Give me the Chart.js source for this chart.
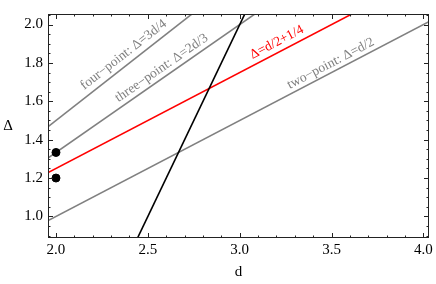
<!DOCTYPE html>
<html>
<head>
<meta charset="utf-8">
<script src="https://cdn.jsdelivr.net/npm/chart.js@4/dist/chart.umd.min.js"></script>
<style>
html,body{margin:0;padding:0;background:#fff;}
#wrap{width:436px;height:284px;position:relative;}
</style>
</head>
<body>
<div id="wrap"><canvas id="c" width="436" height="284"></canvas></div>
<script>
// ---- data ----
const xTickValues = [2.0, 2.5, 3.0, 3.5, 4.0];
const yTickValues = [1.0, 1.2, 1.4, 1.6, 1.8, 2.0];
const xTickLabels = ["2.0", "2.5", "3.0", "3.5", "4.0"];
const yTickLabels = ["1.0", "1.2", "1.4", "1.6", "1.8", "2.0"];

const pointsD     = [2.0, 2.0];
const pointsDelta = [1.3333, 1.2];

const fourPointD     = [1.9, 2.8];
const fourPointDelta = [1.425, 2.1];
const threePointD     = [1.9, 3.2];
const threePointDelta = [1.2667, 2.1333];
const redD     = [1.9, 3.8];
const redDelta = [1.2, 2.15];
const twoPointD     = [1.9, 4.1];
const twoPointDelta = [0.95, 2.05];
const blackD     = [2.4, 3.1];
const blackDelta = [0.8, 2.2];

const labelTexts = ["four\u2212point: \u0394=3d/4", "three\u2212point: \u0394=2d/3", "\u0394=d/2+1/4", "two\u2212point: \u0394=d/2"];
const labelD     = [2.380, 2.586, 3.211, 3.504];
const labelDelta = [1.828, 1.758, 1.891, 1.780];

const toXY = (xs, ys) => xs.map((x, i) => ({x: x, y: ys[i]}));

const GRAY = '#808080';
const SERIF = '"Liberation Serif", "DejaVu Serif", serif';

const lineDs = (xs, ys, color, w) => ({
  type: 'line', data: toXY(xs, ys), borderColor: color, borderWidth: w,
  pointRadius: 0, showLine: true, fill: false, clip: 0, tension: 0
});

const datasets = [
  {type: 'scatter', data: toXY(pointsD, pointsDelta), backgroundColor: '#000', borderColor: '#000', pointRadius: 4, pointHoverRadius: 4, clip: false},
  lineDs(blackD, blackDelta, '#000', 1.6),
  lineDs(redD, redDelta, '#ff0000', 1.6),
  lineDs(fourPointD, fourPointDelta, GRAY, 1.6),
  lineDs(threePointD, threePointDelta, GRAY, 1.6),
  lineDs(twoPointD, twoPointDelta, GRAY, 1.6)
];
// which line dataset each label follows
const labelLine = [3, 4, 2, 5];
const labelColors = [GRAY, GRAY, '#ff0000', GRAY];

const framePlugin = {
  id: 'frame',
  afterDatasetsDraw(chart) {
    const {ctx, chartArea: a, scales: {x, y}} = chart;
    ctx.save();
    // labels along lines
    ctx.font = '13.5px ' + SERIF;
    ctx.textAlign = 'center';
    ctx.textBaseline = 'alphabetic';
    labelTexts.forEach((t, i) => {
      const ds = chart.data.datasets[labelLine[i]].data;
      const p0x = x.getPixelForValue(ds[0].x), p0y = y.getPixelForValue(ds[0].y);
      const p1x = x.getPixelForValue(ds[1].x), p1y = y.getPixelForValue(ds[1].y);
      const ang = Math.atan2(p1y - p0y, p1x - p0x);
      ctx.save();
      ctx.translate(x.getPixelForValue(labelD[i]), y.getPixelForValue(labelDelta[i]));
      ctx.rotate(ang);
      ctx.fillStyle = labelColors[i];
      ctx.fillText(t, 0, 0);
      ctx.restore();
    });
    // frame
    ctx.strokeStyle = '#222';
    ctx.lineWidth = 1;
    ctx.strokeRect(a.left + 0.5, a.top + 0.5, a.right - a.left - 1, a.bottom - a.top - 1);
    // ticks (inward, all four sides)
    ctx.beginPath();
    for (let k = 0; k <= 40; k++) {
      const v = 1.9 + k * 0.1;
      if (v < x.min - 1e-9 || v > x.max + 1e-9) continue;
      const major = Math.abs(v * 2 - Math.round(v * 2)) < 1e-6;
      const L = major ? 5 : 2.5;
      const px = Math.round(x.getPixelForValue(v)) + 0.5;
      ctx.moveTo(px, a.bottom); ctx.lineTo(px, a.bottom - L);
      ctx.moveTo(px, a.top); ctx.lineTo(px, a.top + L);
    }
    for (let k = 0; k <= 40; k++) {
      const v = 0.85 + k * 0.05;
      if (v < y.min - 1e-9 || v > y.max + 1e-9) continue;
      const major = Math.abs(v * 5 - Math.round(v * 5)) < 1e-6;
      const L = major ? 5 : 2.5;
      const py = Math.round(y.getPixelForValue(v)) + 0.5;
      ctx.moveTo(a.left, py); ctx.lineTo(a.left + L, py);
      ctx.moveTo(a.right, py); ctx.lineTo(a.right - L, py);
    }
    ctx.stroke();
    // axis titles
    ctx.fillStyle = '#000';
    ctx.font = '15px ' + SERIF;
    ctx.textAlign = 'center';
    ctx.textBaseline = 'middle';
    ctx.fillText('d', (a.left + a.right) / 2, 272);
    ctx.fillText('\u0394', 8, (a.top + a.bottom) / 2);
    ctx.restore();
  }
};

new Chart(document.getElementById('c'), {
  type: 'scatter',
  data: {datasets: datasets},
  options: {
    responsive: false,
    animation: false,
    events: [],
    layout: {padding: {left: 0, right: 7, top: 1, bottom: 0}},
    plugins: {legend: {display: false}, tooltip: {enabled: false}},
    scales: {
      x: {
        type: 'linear', min: 1.9565, max: 4.03,
        grid: {display: false, drawTicks: false},
        border: {display: false},
        afterBuildTicks: s => { s.ticks = xTickValues.map(v => ({value: v})); },
        afterFit: s => { s.height = 46; },
        ticks: {
          color: '#000', padding: 3, maxRotation: 0, autoSkip: false,
          font: {family: SERIF, size: 15},
          callback: (v) => { const i = xTickValues.findIndex(t => Math.abs(t - v) < 1e-6); return i >= 0 ? xTickLabels[i] : ''; }
        }
      },
      y: {
        type: 'linear', min: 0.8875, max: 2.055,
        grid: {display: false, drawTicks: false},
        border: {display: false},
        afterBuildTicks: s => { s.ticks = yTickValues.map(v => ({value: v})); },
        afterFit: s => { s.width = 48; },
        ticks: {
          color: '#000', padding: 5, autoSkip: false,
          font: {family: SERIF, size: 15},
          callback: (v) => { const i = yTickValues.findIndex(t => Math.abs(t - v) < 1e-6); return i >= 0 ? yTickLabels[i] : ''; }
        }
      }
    }
  },
  plugins: [framePlugin]
});
</script>
</body>
</html>
